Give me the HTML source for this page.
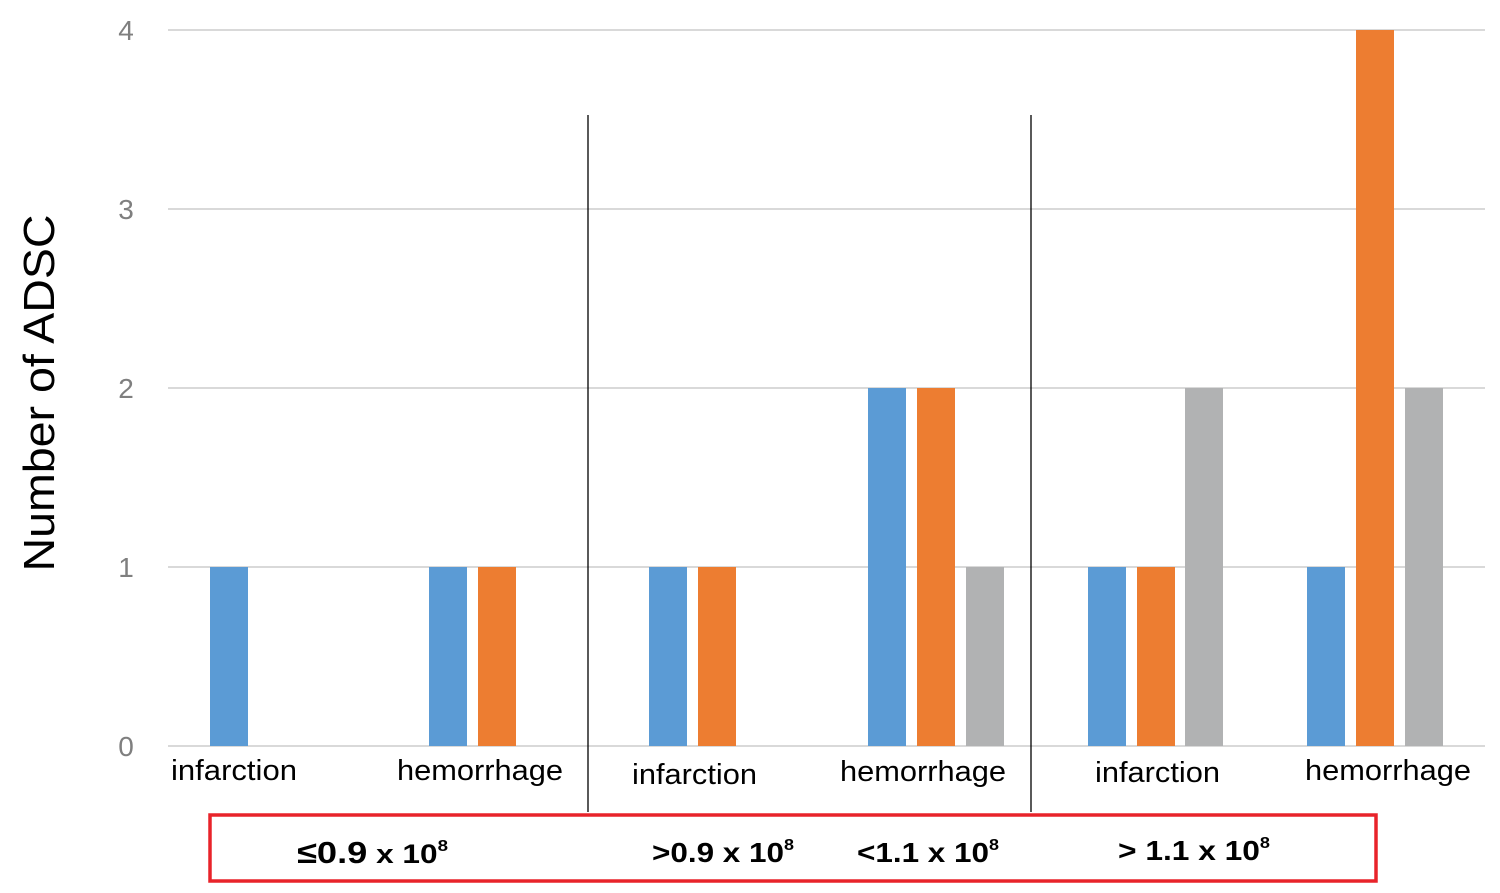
<!DOCTYPE html>
<html><head><meta charset="utf-8"><style>
body{margin:0;background:#fff}
svg text{font-family:"Liberation Sans",sans-serif}
</style></head><body>
<svg width="1500" height="888" xmlns="http://www.w3.org/2000/svg">
<rect width="1500" height="888" fill="#fff"/>
<g stroke="#d9d9d9" stroke-width="2">
<line x1="168" y1="30" x2="1485" y2="30"/>
<line x1="168" y1="209" x2="1485" y2="209"/>
<line x1="168" y1="388" x2="1485" y2="388"/>
<line x1="168" y1="567" x2="1485" y2="567"/>
<line x1="168" y1="746" x2="1485" y2="746"/>
</g>
<g font-size="28" fill="#7f7f7f" text-anchor="middle">
<text x="126" y="40">4</text><text x="126" y="219">3</text><text x="126" y="398">2</text><text x="126" y="577">1</text><text x="126" y="756">0</text>
</g>
<text transform="translate(54,393) rotate(-90)" font-size="44" text-anchor="middle" fill="#000" textLength="357" lengthAdjust="spacingAndGlyphs">Number of ADSC</text>
<g fill="#5b9bd5">
<rect x="210" y="567" width="38" height="179"/>
<rect x="429" y="567" width="38" height="179"/>
<rect x="649" y="567" width="38" height="179"/>
<rect x="868" y="388" width="38" height="358"/>
<rect x="1088" y="567" width="38" height="179"/>
<rect x="1307" y="567" width="38" height="179"/>
</g>
<g fill="#ed7d31">
<rect x="478" y="567" width="38" height="179"/>
<rect x="698" y="567" width="38" height="179"/>
<rect x="917" y="388" width="38" height="358"/>
<rect x="1137" y="567" width="38" height="179"/>
<rect x="1356" y="30" width="38" height="716"/>
</g>
<g fill="#b1b2b3">
<rect x="966" y="567" width="38" height="179"/>
<rect x="1185" y="388" width="38" height="358"/>
<rect x="1405" y="388" width="38" height="358"/>
</g>
<g stroke="#000" stroke-width="1.3">
<line x1="588" y1="115" x2="588" y2="812"/>
<line x1="1031" y1="115" x2="1031" y2="812"/>
</g>
<g font-size="29" fill="#000" lengthAdjust="spacingAndGlyphs">
<text x="171" y="780" textLength="126" lengthAdjust="spacingAndGlyphs">infarction</text>
<text x="397" y="780" textLength="166" lengthAdjust="spacingAndGlyphs">hemorrhage</text>
<text x="632" y="784" textLength="125" lengthAdjust="spacingAndGlyphs">infarction</text>
<text x="840" y="781" textLength="166" lengthAdjust="spacingAndGlyphs">hemorrhage</text>
<text x="1095" y="782" textLength="125" lengthAdjust="spacingAndGlyphs">infarction</text>
<text x="1305" y="780" textLength="166" lengthAdjust="spacingAndGlyphs">hemorrhage</text>
</g>
<rect x="210" y="815" width="1166" height="66" fill="none" stroke="#e8232a" stroke-width="3.5"/>
<g font-weight="bold" fill="#000">
<text x="297" y="863" font-size="31" textLength="151" lengthAdjust="spacingAndGlyphs">≤0.9<tspan font-size="27"> x 10</tspan><tspan font-size="16" dy="-12">8</tspan></text>
<text x="652" y="862" font-size="28" textLength="142" lengthAdjust="spacingAndGlyphs">&gt;0.9 x 10<tspan font-size="16" dy="-12">8</tspan></text>
<text x="857" y="862" font-size="28" textLength="142" lengthAdjust="spacingAndGlyphs">&lt;1.1 x 10<tspan font-size="16" dy="-12">8</tspan></text>
<text x="1118" y="860" font-size="28" textLength="152" lengthAdjust="spacingAndGlyphs">&gt; 1.1 x 10<tspan font-size="16" dy="-12">8</tspan></text>
</g>
</svg>
</body></html>
